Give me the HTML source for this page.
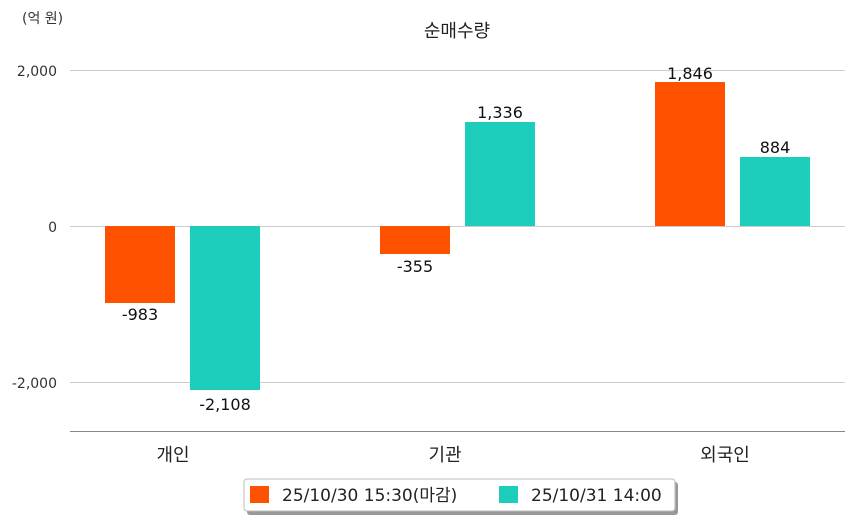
<!DOCTYPE html>
<html><head><meta charset="utf-8"><style>
body{margin:0;background:#fff;width:854px;height:520px;overflow:hidden}
svg text{font-family:"DejaVu Sans","Noto Sans CJK KR",sans-serif}
</style></head><body>
<svg width="854" height="520" xmlns="http://www.w3.org/2000/svg">
<text x="22" y="23" font-size="14" fill="#333">(억 원)</text>
<text x="457" y="37" font-size="18" text-anchor="middle" fill="#222">순매수량</text>
<g stroke="#ccc" stroke-width="1">
<line x1="70" y1="70.5" x2="845" y2="70.5"/>
<line x1="70" y1="226.5" x2="845" y2="226.5"/>
<line x1="70" y1="382.5" x2="845" y2="382.5"/>
</g>
<line x1="70" y1="431.5" x2="845" y2="431.5" stroke="#888"/>
<g font-size="14" fill="#333" text-anchor="end">
<text x="57" y="76">2,000</text>
<text x="57" y="232">0</text>
<text x="57" y="388">-2,000</text>
</g>
<rect x="105" y="226" width="70" height="77" fill="#ff5200"/>
<rect x="190" y="226" width="70" height="164" fill="#1ccdbb"/>
<rect x="380" y="226" width="70" height="28" fill="#ff5200"/>
<rect x="465" y="122" width="70" height="104" fill="#1ccdbb"/>
<rect x="655" y="82" width="70" height="144" fill="#ff5200"/>
<rect x="740" y="157" width="70" height="69" fill="#1ccdbb"/>
<g font-size="16" fill="#111" text-anchor="middle">
<text x="140" y="320">-983</text>
<text x="225" y="410">-2,108</text>
<text x="415" y="272">-355</text>
<text x="500" y="118">1,336</text>
<text x="690" y="79">1,846</text>
<text x="775" y="153">884</text>
</g>
<g font-size="18" fill="#222" text-anchor="middle">
<text x="173" y="461">개인</text>
<text x="445" y="461">기관</text>
<text x="725" y="461">외국인</text>
</g>
<rect x="247" y="482" width="431" height="33" fill="#999" rx="3"/>
<rect x="244" y="479" width="431" height="32" fill="#fff" stroke="#bbb" rx="3"/>
<rect x="250" y="486" width="19" height="17" fill="#ff5200"/>
<text x="282" y="501" font-size="17" fill="#222">25/10/30 15:30(마감)</text>
<rect x="499" y="486" width="19" height="17" fill="#1ccdbb"/>
<text x="531" y="501" font-size="17" fill="#222">25/10/31 14:00</text>
</svg>
</body></html>
